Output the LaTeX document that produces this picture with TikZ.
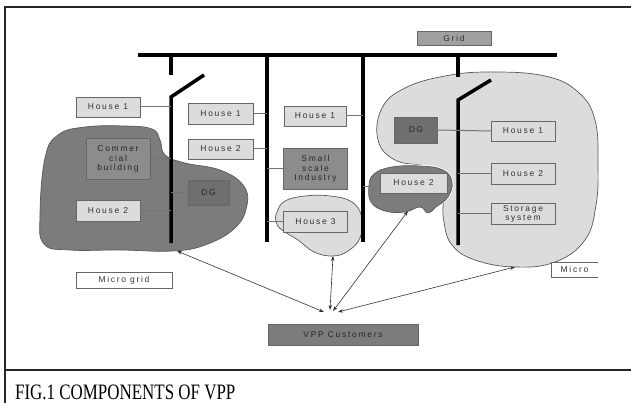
\documentclass[tikz,border=0pt]{standalone}
\usepackage{fontspec}
\setmainfont{Liberation Serif}
\newfontfamily\boxfont[LetterSpace=20]{Liberation Sans}
\usetikzlibrary{arrows.meta}
\definecolor{lightfill}{HTML}{DCDCDC}
\definecolor{midfill}{HTML}{8C8C8C}
\definecolor{darkfill}{HTML}{6F6F6F}
\definecolor{blobfill}{HTML}{7C7C7C}
\definecolor{gridfill}{HTML}{A0A0A0}

\begin{document}
\begin{tikzpicture}[x=1pt,y=-1pt,
  lbl/.style={draw=black!60, fill=lightfill, text=black!80, inner sep=0pt,
    font=\boxfont\fontsize{8.5}{9.5}\selectfont, align=center,
    minimum width=64pt, minimum height=20pt},
  dbox/.style={lbl, fill=midfill, text=black!85},
  feeder/.style={line width=3.5pt},
  tie/.style={black!55, line width=1pt},
  link/.style={{Stealth[length=5pt,width=3.5pt]}-{Stealth[length=5pt,width=3.5pt]}, black!80, line width=0.6pt}]
\useasboundingbox (0,0) rectangle (631,403);

% frame and caption
\draw [black!85, line width=1.2pt] (631,7) -- (5,7) -- (5,403);
\draw [black!85, line width=1.2pt] (5,370) -- (631,370);
\node [anchor=base west, inner sep=0pt, font=\fontsize{22}{24}\selectfont, xscale=0.77, transform shape] (cap) at (15,399.5) {FIG.1 COMPONENTS OF VPP};

% micro grids
\filldraw [fill=lightfill, draw=black!65, line width=0.7pt] plot [smooth cycle, tension=0.7] coordinates {
  (378,140) (382,108) (405,88) (445,76) (490,72) (545,76) (578,92) (595,120) (598,165) (596,205)
  (585,240) (555,262) (515,267) (475,260) (452,245) (444,222) (444,200) (452,186) (446,174) (425,166) (395,160)};
\filldraw [fill=blobfill, draw=black!65, line width=0.7pt] plot [smooth cycle, tension=0.7] coordinates {
  (45,158) (58,135) (85,127) (125,126) (152,129) (160,140) (165,155) (185,163) (220,170) (243,185)
  (247,205) (235,228) (205,245) (172,251) (120,250) (70,250) (44,244) (40,215)};
\draw [white, line width=2.5pt] plot [smooth cycle, tension=0.7] coordinates {
  (369,186) (374,174) (392,167) (420,166) (443,170) (452,182) (448,197) (436,207) (428,213) (420,207) (405,212) (385,211) (371,202)};
\filldraw [fill=blobfill, draw=black!65, line width=0.7pt] plot [smooth cycle, tension=0.7] coordinates {
  (369,186) (374,174) (392,167) (420,166) (443,170) (452,182) (448,197) (436,207) (428,213) (420,207) (405,212) (385,211) (371,202)};
\filldraw [fill=lightfill, draw=black!65, line width=0.7pt] plot [smooth cycle, tension=0.7] coordinates {
  (277,212) (285,201) (305,196) (330,196) (352,202) (362,218) (360,238) (348,251) (333,256) (314,252) (298,240) (282,230) (276,222)};

% bus bar and feeders
\coordinate (f1) at (171,55);
\coordinate (f2) at (267,55);
\coordinate (f3) at (363,55);
\coordinate (f4) at (458,55);
\draw [feeder] (138,55) -- (557,55);
\draw [feeder] (f1) -- (171,75);
\draw [feeder] (204,75) -- (171,97) -- (171,243);
\draw [feeder] (f2) -- (267,242);
\draw [feeder] (f3) -- (363,242);
\draw [feeder] (f4) -- (458,77);
\draw [feeder] (491,80) -- (458,100) -- (458,245);

% boxes
\node [lbl, fill=gridfill, minimum width=74pt, minimum height=14pt] (grid) at (454,38) {Grid};
\node [lbl] (h1a) at (108,107) {House 1};
\node [dbox, minimum height=41pt] (com) at (118,159) {Commer\\cial\\building};
\node [dbox, fill=darkfill, minimum width=41pt, minimum height=25pt] (dgl) at (208.5,193) {DG};
\node [lbl, minimum height=21pt] (h2a) at (108,210.5) {House 2};
\node [lbl, minimum width=65pt, minimum height=21pt] (h1b) at (220.5,113.5) {House 1};
\node [lbl, minimum width=65pt] (h2b) at (220.5,149) {House 2};
\node [lbl, minimum width=62pt] (h1c) at (315,116) {House 1};
\node [dbox, minimum height=41pt] (ind) at (315.5,169) {Small\\scale\\Industry};
\node [lbl, minimum height=21pt] (h3) at (315.5,221.5) {House 3};
\node [lbl, minimum width=67pt] (h2c) at (413.5,183) {House 2};
\node [dbox, fill=darkfill, minimum width=43pt, minimum height=26pt] (dgr) at (416,130) {DG};
\node [lbl] (h1d) at (523,131) {House 1};
\node [lbl, minimum height=21pt] (h2d) at (523,173.5) {House 2};
\node [lbl, minimum height=21pt] (sto) at (523,214) {Storage\\system};
\node [lbl, fill=white, minimum width=96pt, minimum height=16pt] (mgl) at (124,280) {Micro grid};
\node [lbl, draw=none, fill=white, minimum width=47pt, minimum height=15pt] (mgr) at (574.5,269.5) {Micro};
\draw [black!60] (mgr.north east) -- (mgr.north west) -- (mgr.south west) -- (mgr.south east);
\node [dbox, fill=blobfill, minimum width=150pt, minimum height=21pt] (vpp) at (343,335) {VPP Customers};

% ties to feeders
\draw [tie] (h1a.east) -- (h1a.east -| f1);
\draw [tie] (com.east) -- (com.east -| f1);
\draw [tie] (dgl.west) -- (dgl.west -| f1);
\draw [tie] (h2a.east) -- (h2a.east -| f1);
\draw [tie] (h1b.east) -- (h1b.east -| f2);
\draw [tie] (h2b.east) -- (h2b.east -| f2);
\draw [tie] (ind.west) -- (ind.west -| f2);
\draw [tie] (h3.west) -- (h3.west -| f2);
\draw [tie] (h1c.east) -- (h1c.east -| f3);
\coordinate (h2edge) at (369,187);
\draw [tie] (h2edge) -- (h2edge -| f3);
\draw [tie] (dgr.east) -- (h1d.west);
\draw [tie] (h2d.west) -- (h2d.west -| f4);
\draw [tie] (sto.west) -- (sto.west -| f4);

% links to VPP customers
\coordinate (hubA) at (324,312);
\coordinate (hubB) at (330,310);
\coordinate (hubC) at (333,311);
\coordinate (hubD) at (338,312);
\coordinate (tipL) at (177,251);
\coordinate (tipH3) at (333,256);
\coordinate (tipH2) at (408,211);
\coordinate (tipR) at (515,267);
\draw [link] (hubA) -- (tipL);
\draw [link] (hubB) -- (tipH3);
\draw [link] (hubC) -- (tipH2);
\draw [link] (hubD) -- (tipR);
\end{tikzpicture}
\end{document}
